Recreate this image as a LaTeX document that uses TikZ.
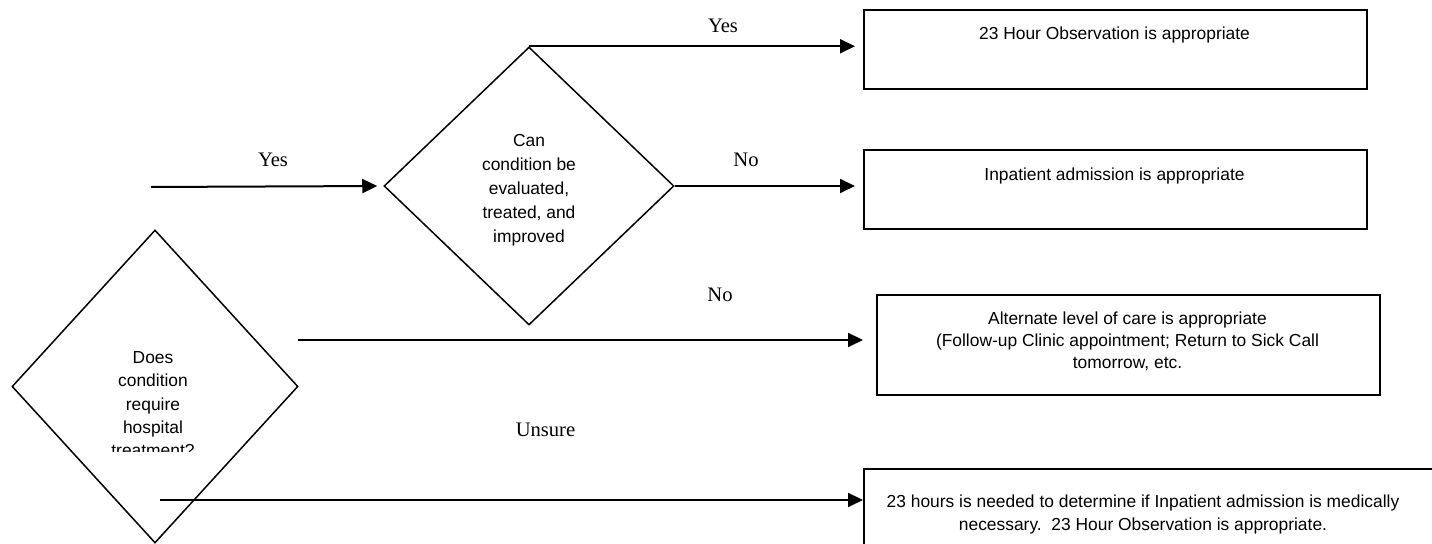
\documentclass[tikz,border=0pt]{standalone}
\usepackage{fontspec}
\setmainfont{Liberation Serif}
\newfontfamily\arialf{Liberation Sans}
\usetikzlibrary{shapes.geometric,arrows.meta}
\tikzset{
  dia/.style={draw, shape=diamond, line width=0.75pt, inner sep=0pt},
  box/.style={draw, rectangle, line width=1pt, inner sep=0pt, anchor=north west},
  txt/.style={align=center, inner sep=0pt},
  lbl/.style={font=\fontsize{10.3}{12}\selectfont, inner sep=0pt, anchor=base},
  arr/.style={-{Triangle[length=7.5pt,width=7pt]}, line width=1pt},
}
\begin{document}
\begin{tikzpicture}[x=0.5pt,y=-0.5pt]
\useasboundingbox (0,0) rectangle (1432,544);
\clip (0,0) rectangle (1432,544);
% diamonds
\node[dia, minimum width=145pt, minimum height=139pt] (d1) at (529,186) {};
\node[dia, minimum width=143pt, minimum height=156.5pt] (d2) at (155,386.5) {};
\begin{scope}
  \clip (455,110) rectangle (603,246);
  \node[txt, anchor=north, font=\arialf\fontsize{8.7}{12}\selectfont] (d1t) at (529,129.2)
    {\strut Can\\condition be\\evaluated,\\treated, and\\improved};
\end{scope}
\begin{scope}
  \clip (80,300) rectangle (228,452);
  \node[txt, anchor=north, font=\arialf\fontsize{8.7}{11.65}\selectfont] (d2t) at (153,346.7)
    {\strut Does\\condition\\require\\hospital\\treatment?};
\end{scope}
% boxes
\node[box, minimum width=251.5pt, minimum height=39.5pt] (b1) at (863,9) {};
\node[box, minimum width=251.5pt, minimum height=39.5pt] (b2) at (863,149) {};
\node[box, minimum width=251.5pt, minimum height=50pt] (b3) at (876,294) {};
\node[box, minimum width=300pt, minimum height=55pt] (b4) at (863,468) {};
\node[txt, anchor=base, font=\arialf\fontsize{8.7}{11.5}\selectfont] (b1t) at (1114.5,39.5)
  {23 Hour Observation is appropriate};
\node[txt, anchor=base, font=\arialf\fontsize{8.7}{11.5}\selectfont] (b2t) at (1114.5,181)
  {Inpatient admission is appropriate};
\node[txt, anchor=north, font=\arialf\fontsize{8.7}{11}\selectfont] (b3t) at (1127.5,308.6)
  {\strut Alternate level of care is appropriate\\(Follow-up Clinic appointment; Return to Sick Call\\tomorrow, etc.};
\node[txt, anchor=north, font=\arialf\fontsize{8.7}{11.3}\selectfont] (b4t) at (1143,491.2)
  {\strut 23 hours is needed to determine if Inpatient admission is medically\\necessary.\ \ 23 Hour Observation is appropriate.};
% free ends
\coordinate (s0) at (151,187);
\coordinate (n0) at (298,340);
\coordinate (u0) at (160,500);
% connectors
\draw[arr, shorten >=3pt] (s0) -- (d1.west);
\draw[arr, shorten >=4pt] (d1.north) -- (d1.north -| b1.west);
\draw[arr, shorten >=4pt] (d1.east) -- (d1.east -| b2.west);
\draw[arr, shorten >=6.5pt] (n0) -- (n0 -| b3.west);
\draw[arr] (u0) -- (u0 -| b4.west);
% labels
\node[lbl] (l1) at (273,167) {Yes};
\node[lbl] (l2) at (723,33) {Yes};
\node[lbl] (l3) at (746,167) {No};
\node[lbl] (l4) at (720,302) {No};
\node[lbl] (l5) at (545.5,437) {Unsure};
\end{tikzpicture}
\end{document}
